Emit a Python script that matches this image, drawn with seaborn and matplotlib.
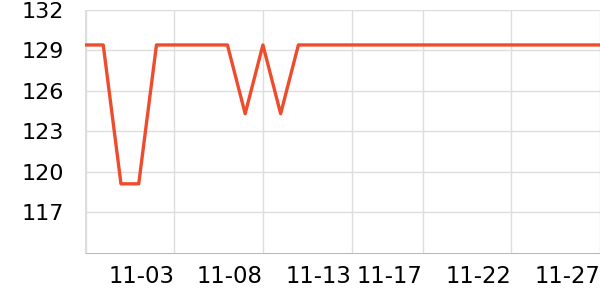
import matplotlib
matplotlib.use("Agg")
import matplotlib.pyplot as plt
import seaborn as sns
import pandas as pd

dates = pd.date_range("2023-10-29", "2023-11-27", freq="D")
values = [129.4, 129.4, 119.1, 119.1, 129.4, 129.4, 129.4, 129.4, 129.4, 124.3,
          129.4, 124.3, 129.4, 129.4, 129.4, 129.4, 129.4, 129.4, 129.4, 129.4,
          129.4, 129.4, 129.4, 129.4, 129.4, 129.4, 129.4, 129.4, 129.4, 129.4]
y_ticks = [117, 120, 123, 126, 129, 132]
x_tick_dates = ["2023-10-29", "2023-11-03", "2023-11-08", "2023-11-13",
                "2023-11-17", "2023-11-22", "2023-11-27"]
x_tick_labels = ["", "11-03", "11-08", "11-13", "11-17", "11-22", "11-27"]

df = pd.DataFrame({"date": dates, "value": values})

sns.set_style("white")
plt.rcParams["font.family"] = ["DejaVu Sans"]

fig = plt.figure(figsize=(6, 3), dpi=100)
ax = fig.add_axes([0.1425, 0.158, 0.8575, 0.809])
sns.lineplot(data=df, x="date", y="value", ax=ax, color="#ee4c2c",
             linewidth=2.4, zorder=3)

ax.set_xlim(dates[0], dates[-1])
ax.set_ylim(114, 132)
ax.set_yticks(y_ticks)
ax.set_yticklabels([str(v) for v in y_ticks])
xt = pd.to_datetime(x_tick_dates)
ax.set_xticks(xt)
ax.set_xticklabels(x_tick_labels, ha="right")

ax.grid(True, color="#dddddd", linewidth=1)
ax.set_axisbelow(True)
for s in ["top", "right"]:
    ax.spines[s].set_visible(False)
ax.spines["left"].set_color("#dddddd")
ax.spines["bottom"].set_color("#bbbbbb")
ax.tick_params(axis="y", length=2.2, color="#dddddd", labelsize=16, pad=13, labelcolor="black")
ax.tick_params(axis="x", length=2.2, color="#bbbbbb", labelsize=16.4, pad=6.8, labelcolor="black")
ax.set_xlabel("")
ax.set_ylabel("")

fig.savefig("out.png", dpi=100)
